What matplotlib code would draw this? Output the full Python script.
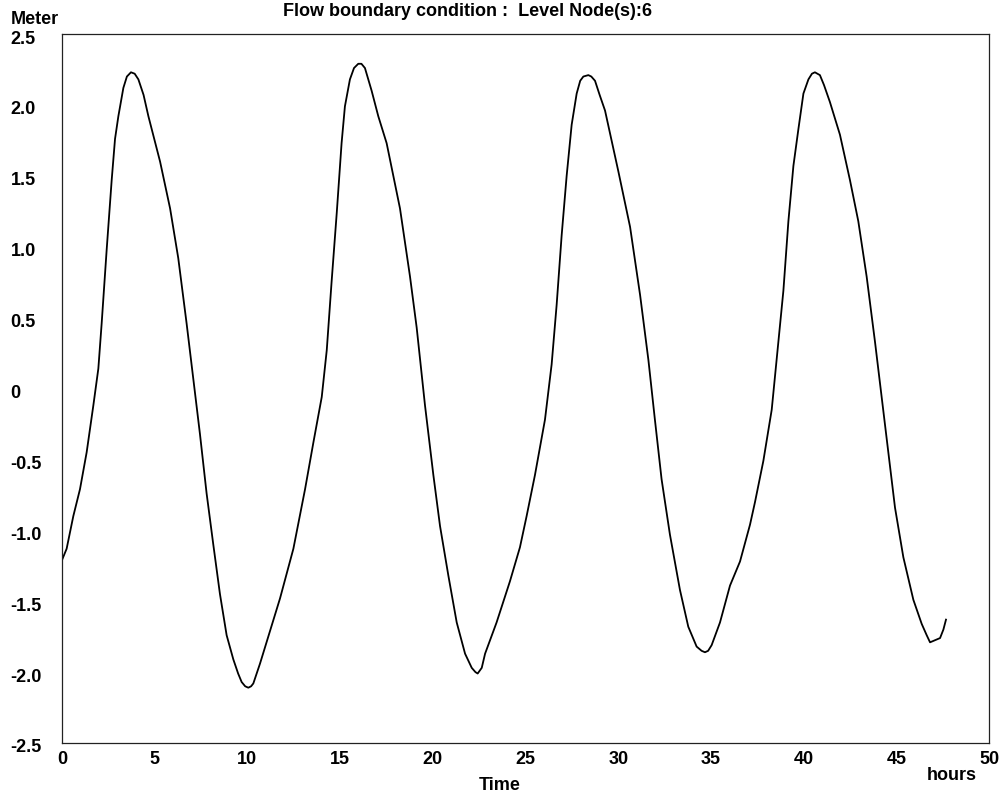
import matplotlib
matplotlib.use("Agg")
import matplotlib.pyplot as plt
import matplotlib.transforms as mtransforms

# water level readings (hours, meter)
hours = [
    0.0, 0.25, 0.61, 0.97, 1.33, 1.69, 1.96, 2.14, 2.41, 2.68, 2.86, 3.04, 3.31,
    3.50, 3.72, 3.92, 4.12, 4.40, 4.66, 5.29, 5.83, 6.27, 6.72, 7.08, 7.44, 7.80,
    8.16, 8.52, 8.88, 9.24, 9.50, 9.69, 9.88, 10.05, 10.20, 10.32, 10.68, 11.22,
    11.76, 12.21, 12.48, 12.75, 13.11, 13.56, 14.01, 14.28, 14.54, 14.82, 15.08,
    15.26, 15.53, 15.75, 15.98, 16.15, 16.34, 16.70, 17.06, 17.51, 18.23, 18.77,
    19.13, 19.58, 20.03, 20.39, 20.84, 21.29, 21.74, 22.10, 22.30, 22.42, 22.64,
    22.82, 23.44, 24.16, 24.70, 25.06, 25.51, 26.05, 26.41, 26.68, 26.95, 27.22,
    27.49, 27.76, 27.95, 28.12, 28.39, 28.55, 28.75, 29.00, 29.29, 30.01, 30.64,
    31.18, 31.63, 31.98, 32.34, 32.79, 33.33, 33.78, 34.23, 34.50, 34.68, 34.85,
    35.04, 35.49, 36.03, 36.57, 37.11, 37.38, 37.83, 38.28, 38.64, 38.91, 39.18,
    39.45, 39.72, 39.99, 40.26, 40.45, 40.61, 40.88, 41.10, 41.42, 41.96, 42.50,
    42.95, 43.40, 43.85, 44.21, 44.57, 44.93, 45.38, 45.92, 46.37, 46.64, 46.82,
    47.00, 47.18, 47.36, 47.54, 47.68,
]
level = [
    -1.21, -1.13, -0.90, -0.71, -0.45, -0.12, 0.14, 0.46, 0.98, 1.47, 1.76, 1.92, 2.12,
    2.20, 2.23, 2.22, 2.18, 2.07, 1.92, 1.60, 1.27, 0.92, 0.46, 0.07, -0.32, -0.74,
    -1.10, -1.45, -1.74, -1.91, -2.01, -2.07, -2.10, -2.11, -2.10, -2.08, -1.94, -1.71,
    -1.48, -1.26, -1.13, -0.95, -0.71, -0.38, -0.06, 0.27, 0.75, 1.24, 1.73,
    1.99, 2.18, 2.26, 2.29, 2.29, 2.26, 2.10, 1.92, 1.73, 1.27, 0.79,
    0.43, -0.12, -0.61, -0.97, -1.32, -1.65, -1.87, -1.97, -2.00, -2.01, -1.97,
    -1.87, -1.65, -1.36, -1.12, -0.90, -0.61, -0.22, 0.17, 0.59, 1.08, 1.50,
    1.86, 2.08, 2.17, 2.20, 2.21, 2.20, 2.17, 2.07, 1.96, 1.53, 1.14,
    0.66, 0.20, -0.22, -0.64, -1.03, -1.42, -1.68, -1.82, -1.85, -1.86, -1.85,
    -1.81, -1.65, -1.39, -1.22, -0.96, -0.80, -0.51, -0.15, 0.33, 0.69, 1.18,
    1.57, 1.83, 2.08, 2.18, 2.22, 2.23, 2.21, 2.14, 2.02, 1.79, 1.47,
    1.18, 0.79, 0.33, -0.06, -0.45, -0.84, -1.19, -1.49, -1.66, -1.74, -1.79,
    -1.78, -1.77, -1.76, -1.70, -1.63,
]

x_ticks = [0, 5, 10, 15, 20, 25, 30, 35, 40, 45, 50]
y_ticks = [-2.5, -2.0, -1.5, -1.0, -0.5, 0, 0.5, 1.0, 1.5, 2.0, 2.5]
y_tick_labels = ["-2.5", "-2.0", "-1.5", "-1.0", "-0.5", "0", "0.5", "1.0", "1.5", "2.0", "2.5"]

plt.rcParams["font.family"] = ["Liberation Sans", "DejaVu Sans"]
plt.rcParams["font.weight"] = "bold"

W, H = 1008, 801
fs = 13
fig = plt.figure(figsize=(W / 100, H / 100), dpi=100)
ax = fig.add_axes([62 / W, 1 - 743 / H, (989 - 62) / W, (743 - 34) / H])

ax.plot(hours, level, color="black", linewidth=1.3, solid_joinstyle="round")

ax.set_xlim(0, 50)
ax.set_ylim(-2.5, 2.5)
ax.set_xticks(x_ticks, [str(t) for t in x_ticks])
ax.set_yticks(y_ticks, y_tick_labels)
ax.tick_params(axis="both", length=0, labelsize=fs)
ax.tick_params(axis="x", pad=6)
ax.tick_params(axis="y", pad=37)

# the old plot prints y labels flush left and a touch below each level
shift_down = mtransforms.ScaledTranslation(0, -3 / 100, fig.dpi_scale_trans)
for label in ax.get_yticklabels():
    label.set_horizontalalignment("left")
    label.set_transform(label.get_transform() + shift_down)
for spine in ax.spines.values():
    spine.set_linewidth(0.9)
    spine.set_color("#222222")

fig.text(11 / W, 1 - 20 / H, "Meter", fontsize=fs, fontweight="bold", va="center", ha="left")
fig.text(283 / W, 1 - 12 / H, "Flow boundary condition :  Level Node(s):6",
         fontsize=fs, fontweight="bold", va="center", ha="left")
fig.text(952 / W, 1 - 776 / H, "hours", fontsize=fs, fontweight="bold", va="center", ha="center")
fig.text(500 / W, 1 - 786 / H, "Time", fontsize=fs, fontweight="bold", va="center", ha="center")

fig.savefig("out.png", dpi=100)
